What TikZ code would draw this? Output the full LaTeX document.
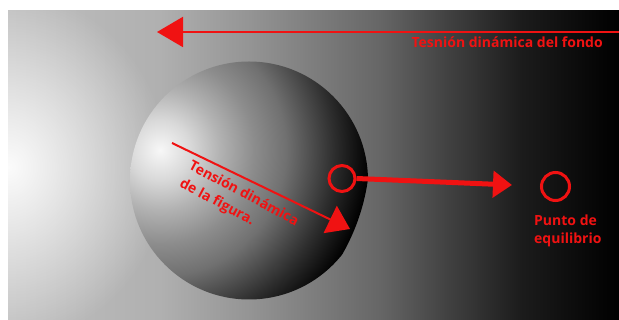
\documentclass[tikz,border=0pt]{standalone}
\usepackage{fontspec}
\setmainfont{Open Sans}
\usetikzlibrary{arrows.meta,fadings}
\definecolor{rred}{RGB}{240,18,18}
\tikzfading[name=glowfade, inner color=transparent!0, outer color=transparent!100]
\pgfdeclarehorizontalshading{bgshade}{100bp}{color(0bp)=(black!25); color(25bp)=(black!25); color(37.44bp)=(black!31); color(44.8bp)=(black!42); color(55.44bp)=(black!60); color(61.17bp)=(black!75); color(66.9bp)=(black!89); color(73.45bp)=(black!98); color(75bp)=(black); color(100bp)=(black)}
\pgfdeclareradialshading{sph}{\pgfpoint{0bp}{0bp}}{color(0bp)=(black!3); color(3.6bp)=(black!15); color(7.1bp)=(black!30); color(11.2bp)=(black!45); color(15bp)=(black!56); color(20.7bp)=(black!82); color(24.5bp)=(black!98); color(25bp)=(black); color(50bp)=(black)}
\begin{document}
\begin{tikzpicture}[x=1pt,y=-1pt,
  lbl/.style={text=rred, font=\bfseries\fontsize{14}{18}\selectfont, inner sep=0pt},
  ring/.style={circle, draw=rred, line width=3pt, inner sep=0pt},
  redline/.style={draw=rred, line width=2pt}]
\useasboundingbox (0,0) rectangle (619,320);
\begin{scope}
  \clip (8,11) rectangle (619,320);
  \shade[shading=bgshade] (8,11) rectangle (619,320);
  \fill[white, path fading=glowfade, opacity=0.95] (8,167) ellipse [x radius=160, y radius=175];
\end{scope}
% sphere
\node[circle, minimum size=238pt, inner sep=0pt] (sphere) at (249,180.5) {};
\begin{scope}
  \clip (sphere.center) circle [radius=119];
  \shade[shading=sph] (160,150) circle [radius=210];
\end{scope}
% background tension arrow
\coordinate (topR) at (619,32);
\coordinate (topL) at (157,32);
\draw[redline, -{Triangle[length=26pt,width=30pt]}] (topR) -- (topL);
\node[lbl, anchor=base east] (fondo) at (603,48) {Tesnión dinámica del fondo};
% figure tension arrow
\coordinate (dA) at (172,143);
\coordinate (dB) at (350,229);
\draw[redline, -{Triangle[length=22pt,width=30pt]}] (dA) -- (dB);
\node[lbl, rotate=-28, align=left, font=\bfseries\fontsize{14}{20}\selectfont] (fig) at (239,203) {Tensión dinámica\\de la figura.};
% equilibrium
\node[ring, minimum size=26pt] (c1) at (342,178.5) {};
\node[ring, minimum size=28pt] (c2) at (555.5,186.5) {};
\coordinate (tip) at (512,185);
\draw[draw=rred, line width=5pt, -{Triangle[length=19pt,width=26pt]}] (c1.east) -- (tip);
\node[lbl, align=left, anchor=north west] (eq) at (534,214.5) {Punto de\\equilibrio};
\end{tikzpicture}
\end{document}
